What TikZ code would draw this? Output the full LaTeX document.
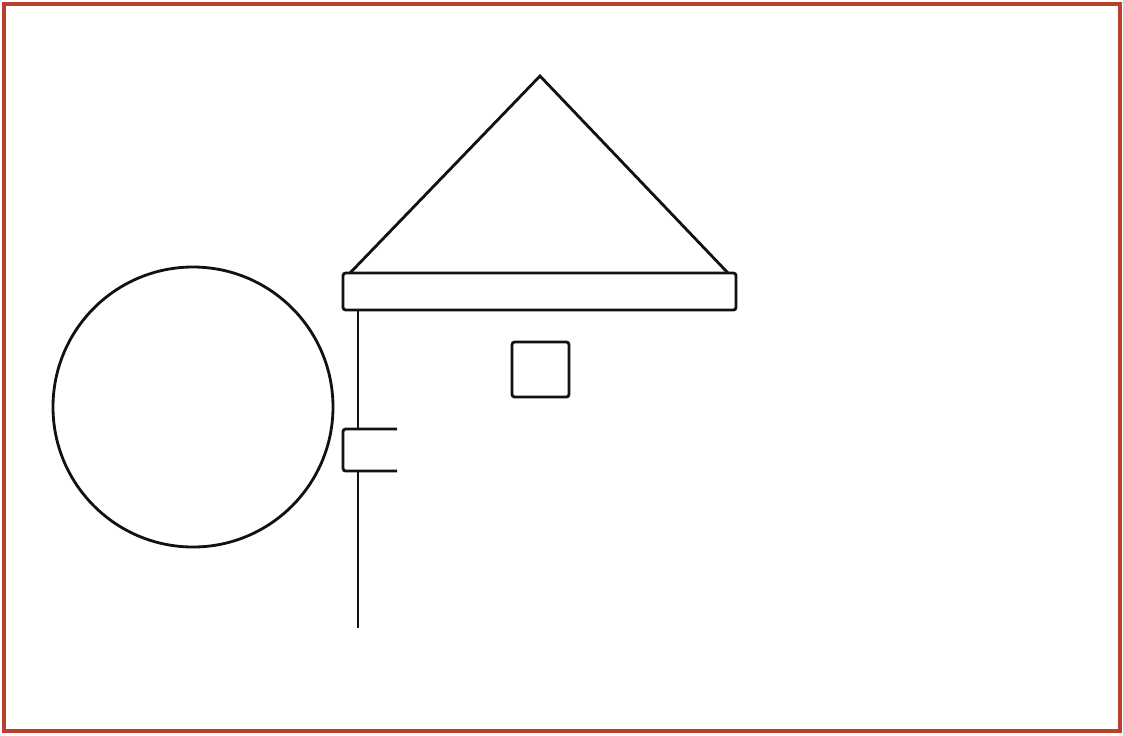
\documentclass[tikz,border=0pt]{standalone}
\usepackage{tikz}
\usepackage{xcolor}
\definecolor{frame}{HTML}{B7412C}
\definecolor{ink}{HTML}{111111}
\tikzset{
  outline/.style={draw=ink, line width=1.6pt, rounded corners=1.5pt},
  border/.style={draw=frame, line width=2.6pt}
}
\begin{document}
\begin{tikzpicture}[x=0.02cm,y=-0.02cm]
        \useasboundingbox (0,0) rectangle (1123,735);
        % frame
        \draw[border] (4,4) rectangle (1120,731);
        % wheel
        \draw[outline] (193,407) circle (140);
        % roof
        \coordinate (apex) at (540,76);
        \draw[outline,rounded corners=0pt] (350,273) -- (apex) -- (728,273);
        \draw[outline] (343,273) rectangle (736,310);
        % post with bracket
        \coordinate (top) at (358,310);
        \coordinate (bot) at (358,628);
        \draw[outline,rounded corners=0pt] (top) -- (358,429);
        \draw[outline,rounded corners=0pt] (358,471) -- (bot);
        \draw[outline] (397,429) -- (343,429) -- (343,471) -- (397,471);
        % window
        \draw[outline] (512,342) rectangle (569,397);
      \end{tikzpicture}
\end{document}
